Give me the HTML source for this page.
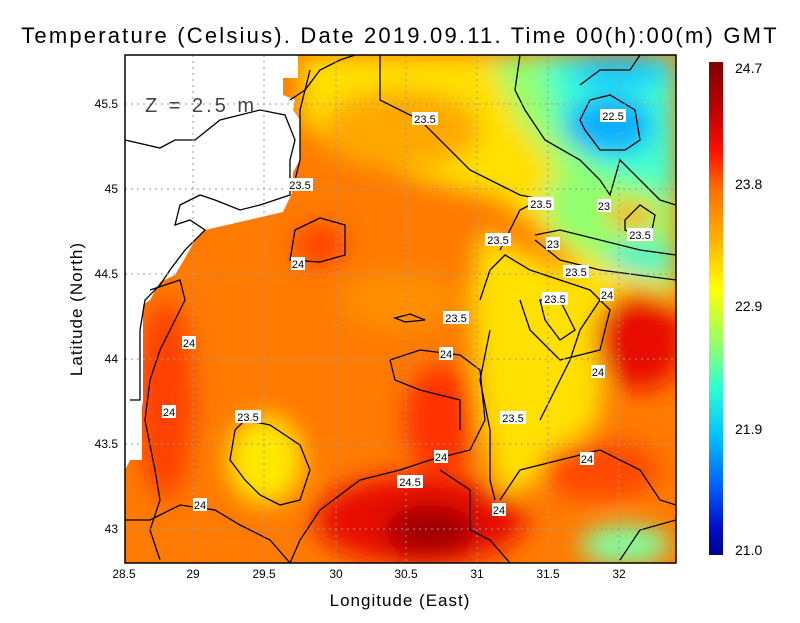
<!DOCTYPE html>
<html><head><meta charset="utf-8"><style>
body{margin:0;background:#fff;}
svg text{font-family:"Liberation Sans",sans-serif;}
</style></head><body>
<svg width="800" height="618" viewBox="0 0 800 618" xmlns="http://www.w3.org/2000/svg">
<defs>
<filter id="b" x="-20%" y="-20%" width="140%" height="140%"><feGaussianBlur stdDeviation="12"/></filter>
<clipPath id="c"><rect x="125" y="55" width="551" height="508"/></clipPath>
<linearGradient id="cb" x1="0" y1="0" x2="0" y2="1">
<stop offset="0" stop-color="#7f0000"/><stop offset="0.1" stop-color="#c00000"/><stop offset="0.18" stop-color="#ff1000"/>
<stop offset="0.26" stop-color="#ff7000"/><stop offset="0.36" stop-color="#ffb000"/><stop offset="0.46" stop-color="#ffff00"/>
<stop offset="0.56" stop-color="#a0ff60"/><stop offset="0.66" stop-color="#30ffd0"/><stop offset="0.76" stop-color="#00c0ff"/>
<stop offset="0.86" stop-color="#0060ff"/><stop offset="0.94" stop-color="#0010d0"/><stop offset="1" stop-color="#00008f"/></linearGradient>
</defs>
<text x="400" y="43" font-size="22" text-anchor="middle" fill="#000" letter-spacing="2.2">Temperature (Celsius). Date 2019.09.11. Time 00(h):00(m) GMT</text>
<g clip-path="url(#c)">
<rect x="125" y="55" width="551" height="508" fill="#ff7a00"/>
<g filter="url(#b)">
<path d="M300 55 L676 55 L676 300 L600 300 L560 250 L500 200 L420 180 L330 150 L300 120 Z" fill="#ffe000"/>
<path d="M490 55 L676 55 L676 290 L620 270 L560 240 L540 200 L560 170 L520 120 Z" fill="#90ff70"/>
<path d="M540 55 L676 55 L676 200 L640 180 L600 170 L560 130 Z" fill="#40ffd0"/>
<ellipse cx="610" cy="125" rx="45" ry="30" fill="#10b0ff"/>
<ellipse cx="620" cy="72" rx="50" ry="16" fill="#10c8ff"/>
<ellipse cx="640" cy="258" rx="35" ry="14" fill="#40f0d0"/>
<ellipse cx="630" cy="215" rx="25" ry="15" fill="#ffb000"/>
<path d="M480 230 L610 290 L600 420 L540 480 L500 500 L480 420 L470 300 Z" fill="#ffe000"/>
<ellipse cx="265" cy="460" rx="38" ry="45" fill="#ffe800"/>
<ellipse cx="400" cy="130" rx="80" ry="40" fill="#ffa800"/>
<ellipse cx="640" cy="340" rx="45" ry="50" fill="#e81000"/>
<ellipse cx="420" cy="520" rx="105" ry="45" fill="#e81000"/>
<ellipse cx="430" cy="530" rx="45" ry="25" fill="#a00000"/>
<ellipse cx="440" cy="420" rx="35" ry="55" fill="#ff3000"/>
<ellipse cx="165" cy="400" rx="28" ry="100" fill="#ff4000"/>
<ellipse cx="320" cy="245" rx="25" ry="20" fill="#ff4000"/>
<ellipse cx="600" cy="470" rx="60" ry="30" fill="#ff4800"/>
<ellipse cx="625" cy="545" rx="45" ry="20" fill="#80ffa0"/>
<ellipse cx="400" cy="300" rx="60" ry="30" fill="#ff9000"/>
</g>
<path d="M125 55 L298 55 L298 78 L283 78 L283 95 L295 100 L293 110 L300 120 L300 160 L293 172 L292 193 L283 212 L240 222 L205 230 L195 240 L185 258 L175 275 L160 282 L150 300 L143 305 L143 400 L138 440 L130 460 L125 470 Z" fill="#ffffff"/>
<rect x="125" y="290" width="17" height="170" fill="#ffffff"/>
<g fill="none" stroke="#000" stroke-width="1.3">
<path d="M125 140 L160 148 L175 140 L195 140 L220 120 L260 110 L285 115 L295 140 L290 160 L290 195 L260 205 L240 210 L215 200 L200 195 L180 205 L175 225 L190 220 L205 230 L185 250 L170 270 L160 285 L145 300 L140 330 L140 400 L130 400"/>
<path d="M290 100 L305 90 L320 70 L340 60 L355 55"/>
<path d="M310 70 L300 110 L300 160 L295 180"/>
<path d="M380 55 L380 100 L420 120 L470 170 L520 195 L545 200"/>
<path d="M520 55 L515 90 L525 110 L545 140 L580 160 L600 180 L610 195 L620 160 L640 180 L660 200 L676 205"/>
<path d="M580 120 L590 100 L610 95 L635 110 L640 140 L625 150 L600 150 L585 130 Z"/>
<path d="M580 85 L600 70 L630 70 L640 55"/>
<path d="M625 220 L640 205 L655 215 L650 240 L625 230 Z"/>
<path d="M535 235 L560 230 L600 240 L640 250 L676 255"/>
<path d="M535 240 L560 260 L600 270 L676 280"/>
<path d="M500 250 L510 230 L520 210 L530 205"/>
<path d="M480 300 L490 270 L505 255 L530 270 L560 280 L590 290 L610 310 L600 350 L560 360 L530 330 L520 300"/>
<path d="M540 300 L560 300 L575 330 L560 340 L545 320 Z"/>
<path d="M490 330 L480 380 L490 430 L490 480 L495 500"/>
<path d="M600 300 L580 330 L570 360 L555 390 L540 420"/>
<path d="M390 360 L420 350 L460 355 L480 370 L485 420 L470 450 L430 460 L400 470 L360 480 L320 510 L300 540 L290 563"/>
<path d="M390 360 L395 380 L420 390 L460 400 L460 430"/>
<path d="M440 470 L470 490 L470 530 L490 540 L510 563"/>
<path d="M500 500 L520 470 L560 460 L600 450 L640 470 L660 500 L676 505"/>
<path d="M620 560 L640 530 L676 520"/>
<path d="M290 260 L295 230 L320 218 L345 225 L345 255 L320 262 Z"/>
<path d="M235 430 L245 420 L270 425 L300 445 L310 470 L300 500 L280 505 L260 495 L245 480 L230 460 Z"/>
<path d="M150 290 L180 280 L185 300 L175 320 L160 350 L150 380 L145 420 L155 470 L160 500 L150 530 L160 560"/>
<path d="M125 520 L150 520 L180 505 L215 510 L240 525 L270 540 L290 563"/>
<path d="M395 318 L410 314 L425 320 L405 322 Z"/>
</g>
</g>
<g stroke="#999" stroke-width="1" stroke-dasharray="2,4" fill="none">
<path d="M193 55V563M264 55V563M336 55V563M406 55V563M477 55V563M548 55V563M619 55V563"/>
<path d="M125 104H676M125 189H676M125 274H676M125 359H676M125 444H676M125 529H676"/>
</g>
<rect x="125" y="55" width="551" height="508" fill="none" stroke="#000" stroke-width="1.5"/>
<text x="145" y="112" font-size="20" fill="#444" letter-spacing="3">Z = 2.5 m</text>
<g font-size="11" text-anchor="middle" fill="#000">
<g fill="#fff"><rect x="412" y="112" width="26" height="13"/><rect x="287" y="178" width="26" height="13"/><rect x="528" y="197" width="26" height="13"/><rect x="597" y="199" width="14" height="13"/><rect x="485" y="233" width="26" height="13"/><rect x="546" y="237" width="14" height="13"/><rect x="627" y="228" width="26" height="13"/><rect x="563" y="265" width="26" height="13"/><rect x="600" y="288" width="14" height="13"/><rect x="542" y="292" width="26" height="13"/><rect x="443" y="311" width="26" height="13"/><rect x="291" y="257" width="14" height="13"/><rect x="182" y="336" width="14" height="13"/><rect x="439" y="347" width="14" height="13"/><rect x="591" y="365" width="14" height="13"/><rect x="162" y="405" width="14" height="13"/><rect x="235" y="410" width="26" height="13"/><rect x="500" y="411" width="26" height="13"/><rect x="434" y="450" width="14" height="13"/><rect x="580" y="452" width="14" height="13"/><rect x="397" y="475" width="26" height="13"/><rect x="193" y="498" width="14" height="13"/><rect x="492" y="503" width="14" height="13"/><rect x="600" y="109" width="26" height="13"/></g>
<text x="425" y="123">23.5</text><text x="300" y="189">23.5</text><text x="541" y="208">23.5</text><text x="604" y="210">23</text><text x="498" y="244">23.5</text><text x="553" y="248">23</text><text x="640" y="239">23.5</text><text x="576" y="276">23.5</text><text x="607" y="299">24</text><text x="555" y="303">23.5</text><text x="456" y="322">23.5</text><text x="298" y="268">24</text><text x="189" y="347">24</text><text x="446" y="358">24</text><text x="598" y="376">24</text><text x="169" y="416">24</text><text x="248" y="421">23.5</text><text x="513" y="422">23.5</text><text x="441" y="461">24</text><text x="587" y="463">24</text><text x="410" y="486">24.5</text><text x="200" y="509">24</text><text x="499" y="514">24</text><text x="613" y="120">22.5</text>
</g>
<g font-size="12" fill="#000" text-anchor="middle">
<text x="124" y="578">28.5</text><text x="193" y="578">29</text><text x="264" y="578">29.5</text><text x="336" y="578">30</text><text x="406" y="578">30.5</text><text x="477" y="578">31</text><text x="548" y="578">31.5</text><text x="619" y="578">32</text>
</g>
<g font-size="12" fill="#000" text-anchor="end">
<text x="118" y="108">45.5</text><text x="118" y="193">45</text><text x="118" y="278">44.5</text><text x="118" y="363">44</text><text x="118" y="448">43.5</text><text x="118" y="533">43</text>
</g>
<text x="400" y="606" font-size="17" text-anchor="middle" letter-spacing="1">Longitude (East)</text>
<text x="82" y="309" font-size="17" text-anchor="middle" letter-spacing="1" transform="rotate(-90 82 309)">Latitude (North)</text>
<rect x="709" y="62" width="14" height="493" fill="url(#cb)"/>
<g font-size="14" fill="#000">
<text x="735" y="73">24.7</text><text x="735" y="189">23.8</text><text x="735" y="311">22.9</text><text x="735" y="434">21.9</text><text x="735" y="555">21.0</text>
</g>
</svg>
</body></html>
